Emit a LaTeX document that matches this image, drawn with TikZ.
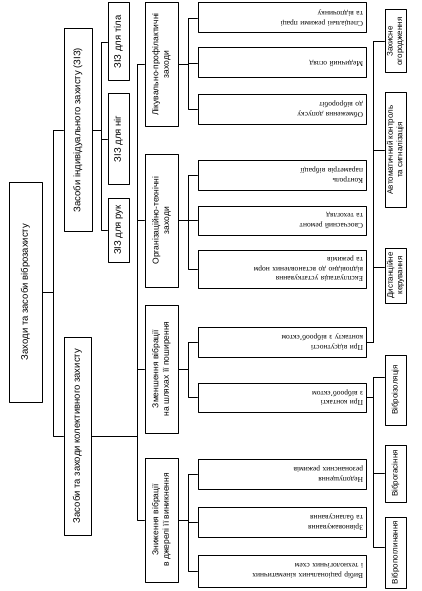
\documentclass[tikz,border=0pt]{standalone}
\usepackage{fontspec}
\setmainfont{Liberation Serif}
\setsansfont{Liberation Sans}
\usepackage{tikz}
\usetikzlibrary{calc,positioning}
\tikzset{
  every picture/.append style={line cap=round,line join=round},
  vz frame/.style={draw,line width=1pt,inner sep=1pt,rotate=90,align=center,font=\sffamily\fontsize{9.5}{11}\selectfont},
  vz group/.style={vz frame,minimum height=33pt,font=\sffamily\fontsize{8.5}{10.5}\selectfont},
  vz side/.style={vz frame,minimum height=21pt,font=\sffamily\fontsize{8}{9.5}\selectfont},
  vz leaf/.style={draw,line width=1pt,rotate=180,align=left,inner xsep=3pt,inner ysep=1pt,text width=162pt,font=\rmfamily\fontsize{7.5}{9.5}\selectfont},
  vz link/.style={line width=0.9pt}
}

\begin{document}
\begin{tikzpicture}[x=1pt,y=-1pt]
\useasboundingbox (0,0) rectangle (422,591);
% root and the two kinds of protection
\node[vz frame,minimum width=220pt,minimum height=33pt] (root) at (25.5,292) {Заходи та засоби віброзахисту};
\node[vz frame,minimum width=203pt,minimum height=28pt] (ziz) at (78,130) {Засоби індивідуального захисту (ЗІЗ)};
\node[vz frame,minimum width=198pt,minimum height=27pt] (kol) at (77.5,436) {Засоби та заходи колективного захисту};
\draw[vz link] (root.south) -- ++(11,0) |- (ziz.north);
\draw[vz link] (root.south) -- ++(11,0) |- (kol.north);

% personal means
\node[vz frame,minimum width=78pt,minimum height=21pt] (tila) at (118.5,42) {ЗІЗ для тіла};
\node[vz frame,minimum width=90pt,minimum height=21pt] (nig) at (118.5,139) {ЗІЗ для ніг};
\node[vz frame,minimum width=64pt,minimum height=21pt] (ruk) at (118.5,230) {ЗІЗ для рук};
\foreach \n in {tila,nig,ruk}
  \draw[vz link] (ziz.south) -- ++(9,0) |- (\n.north);

% collective means
\node[vz group,minimum width=123pt] (lik) at (161.5,64.5) {Лікувально-профілактичні\\заходи};
\node[vz group,minimum width=133pt] (org) at (161.5,220.5) {Організаційно-технічні\\заходи};
\node[vz group,minimum width=128pt] (zmen) at (161.5,369) {Зменшення вібрації\\на шляхах її поширення};
\node[vz group,minimum width=124pt] (dzh) at (161.5,520) {Зниження вібрації\\в джерелі її виникнення};
\foreach \n in {lik,org,zmen,dzh}
  \draw[vz link] (kol.south) -- ++(46,0) |- (\n.north);

% measures
\node[vz leaf,minimum height=30pt] (rezh) at (282,18) {Спеціальні режими праці\\та відпочинку};
\node[vz leaf,minimum height=30pt] (ohl) at (282,63) {Медичний огляд};
\node[vz leaf,minimum height=29pt] (dop) at (282,109.5) {Обмеження допуску\\до віброробіт};
\node[vz leaf,minimum height=30pt] (kontr) at (282,175) {Контроль\\параметрів вібрації};
\node[vz leaf,minimum height=29pt] (rem) at (282,220.5) {Своєчасний ремонт\\та техогляд};
\node[vz leaf,minimum height=38pt] (eksp) at (282,269) {Експлуатація устаткування\\відповідно до встановлених норм\\та режимів};
\node[vz leaf,minimum height=30pt] (bezk) at (282,342) {При відсутності\\контакту з віброоб'єктом};
\node[vz leaf,minimum height=29pt] (zk) at (282,397.5) {При контакті\\з віброоб'єктом};
\node[vz leaf,minimum height=30pt] (rez) at (282,474) {Недопущення\\резонансних режимів};
\node[vz leaf,minimum height=30pt] (bal) at (282,522) {Зрівноважування\\та балансування};
\node[vz leaf,minimum height=32pt] (vyb) at (282,571) {Вибір раціональних кінематичних\\і технологічних схем};
\foreach \p/\c in {lik/rezh,lik/ohl,lik/dop,org/kontr,org/rem,org/eksp,zmen/bezk,zmen/zk,dzh/rez,dzh/bal,dzh/vyb}
  \draw[vz link] (\p.south) -- ++(10,0) |- (\c.east);

% technical means
\node[vz side,minimum width=63pt] (ohor) at (395.5,41.5) {Захисне\\огородження};
\node[vz side,minimum width=114pt] (avt) at (395.5,150) {Автоматичний контроль\\та сигналізація};
\node[vz side,minimum width=55pt] (dyst) at (395.5,275.5) {Дистанційне\\керування};
\node[vz side,minimum width=70pt] (izol) at (395.5,390) {Віброізоляція};
\node[vz side,minimum width=57pt] (has) at (395.5,473.5) {Віброгасіння};
\node[vz side,minimum width=71pt] (pohl) at (395.5,552.5) {Вібропоглинання};
\draw[vz link] (bezk.west) -- ++(7,0) |- (ohor.north);
\draw[vz link] (bezk.west) -- ++(7,0) |- (avt.north);
\draw[vz link] (bezk.west) -- ++(7,0) |- ($(dyst.north)!0.3!(dyst.north east)$);
\draw[vz link] (zk.west) -- ++(7,0) |- ($(izol.north)!0.35!(izol.north east)$);
\draw[vz link] (zk.west) -- ++(7,0) |- (has.north);
\draw[vz link] (zk.west) -- ++(7,0) |- ($(pohl.north)!0.15!(pohl.north east)$);
\end{tikzpicture}
\end{document}
